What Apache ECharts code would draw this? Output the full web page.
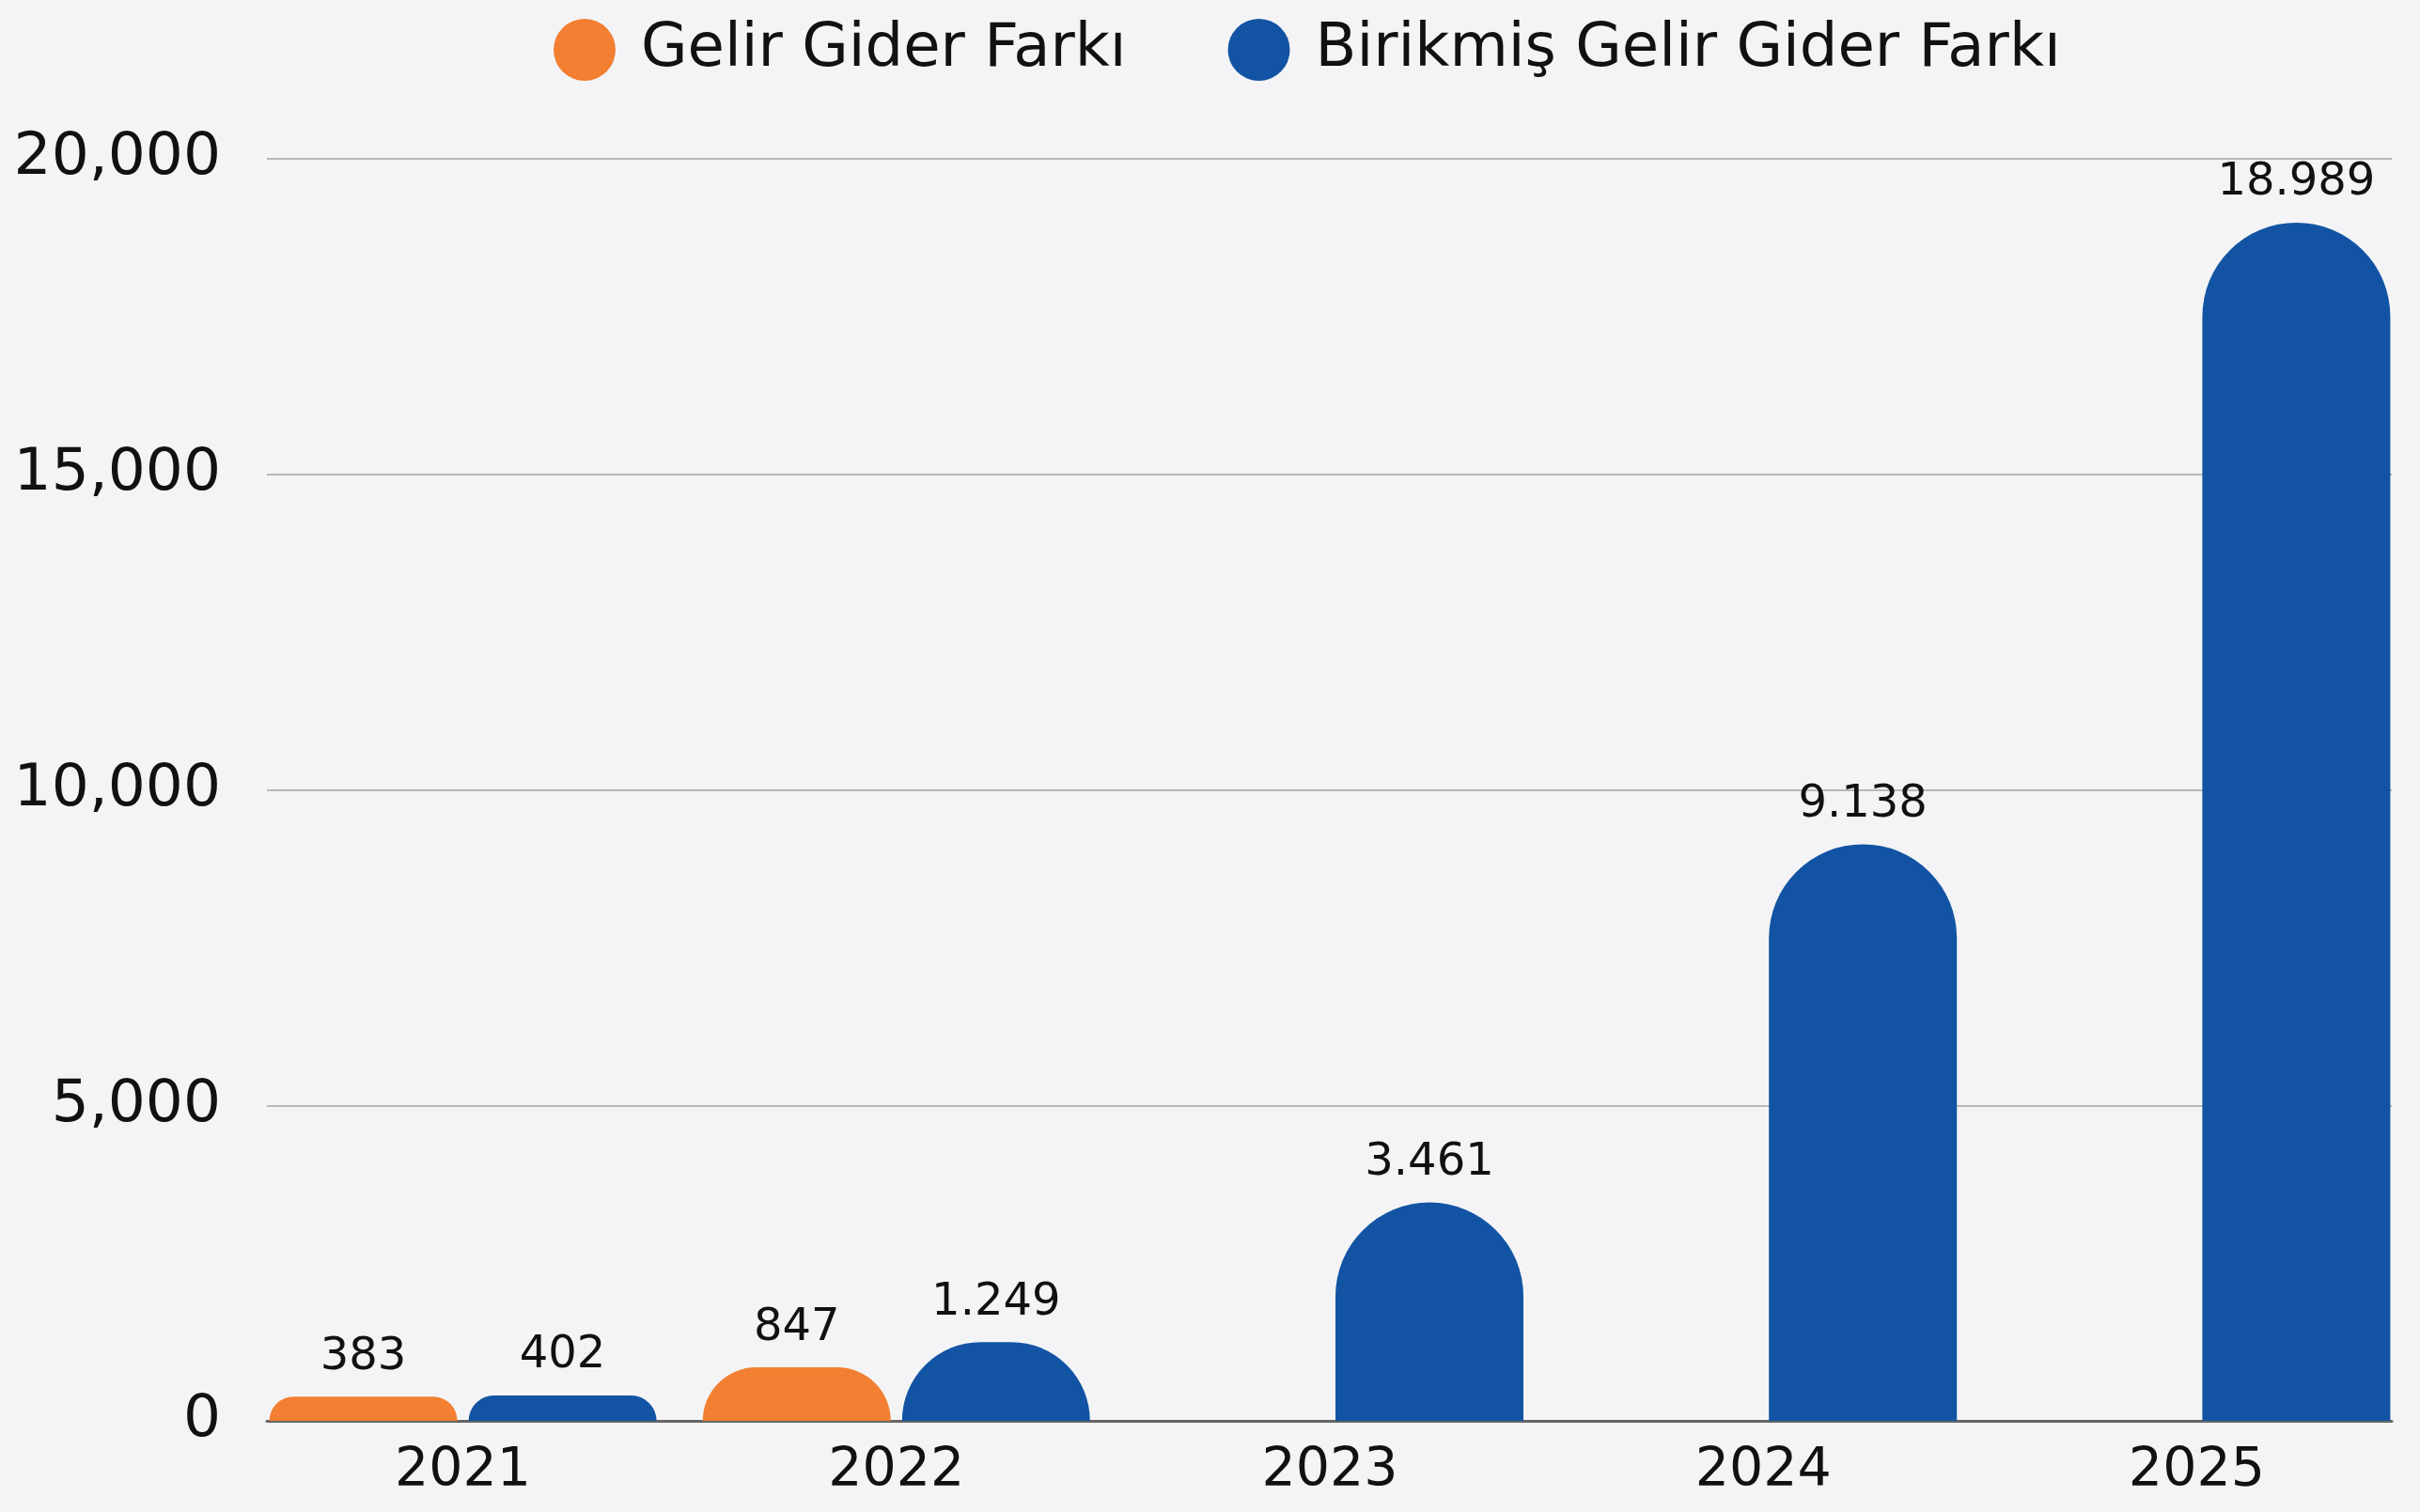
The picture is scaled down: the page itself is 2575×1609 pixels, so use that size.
<!DOCTYPE html>
<html>
<head>
<meta charset="utf-8">
<script src="https://cdn.jsdelivr.net/npm/echarts@6/dist/echarts.min.js"></script>
<style>
    html, body { margin: 0; padding: 0; background: #f4f4f6; }
    #chrt_gelir_gider { width: 2575px; height: 1609px; }
</style>
</head>
<body>
<div id="chrt_gelir_gider"></div>
<script>
const years = ['2021', '2022', '2023', '2024', '2025']
const gelirGiderFarki = [383, 847, null, null, null]
const birikmisFarki = [402, 1249, 3461, 9138, 18989]
const yTicks = { min: 0, max: 20000, interval: 5000 }

const fontName = 'DejaVu Sans'

// 18989 -> 18.989
const dotFmt = v => String(v).replace(/\B(?=(\d{3})+(?!\d))/g, '.')

const barLabel = {
    show: true,
    position: 'top',
    distance: 18,
    color: '#111',
    fontFamily: fontName,
    fontSize: 48,
    formatter: p => dotFmt(p.value)
}

const option = {
    backgroundColor: '#f4f4f6',
    animation: false,
    legend: {
        left: 584, top: 15,
        icon: 'circle',
        itemWidth: 66, itemHeight: 66,
        itemGap: 108,
        textStyle: {
            fontFamily: fontName, fontSize: 64, color: '#111',
            padding: [0, 0, 0, 22]
        },
        data: ['Gelir Gider Farkı', 'Birikmiş Gelir Gider Farkı']
    },
    grid: [
        // gridlines + y labels
        { left: 284, right: 30, top: 169, bottom: 97 },
        // bars
        { left: 262, right: 7, top: 169, bottom: 97 }
    ],
    xAxis: [
        {
            gridIndex: 0, type: 'category', data: years,
            axisLine: { show: true, lineStyle: { color: '#666', width: 3 } },
            axisTick: { show: false },
            axisLabel: { show: false }
        },
        {
            gridIndex: 1, type: 'category', data: years,
            axisLine: { show: false },
            axisTick: { show: false },
            axisLabel: {
                margin: 26,
                color: '#111', fontFamily: fontName, fontSize: 57
            }
        }
    ],
    yAxis: [
        {
            gridIndex: 0, type: 'value',
            min: yTicks.min, max: yTicks.max, interval: yTicks.interval,
            axisLine: { show: false },
            axisTick: { show: false },
            axisLabel: {
                margin: 49,
                color: '#111', fontFamily: fontName, fontSize: 63,
                formatter: v => v.toLocaleString('en-US')
            },
            splitLine: { lineStyle: { color: '#b8b8b8', width: 2 } }
        },
        {
            gridIndex: 1, type: 'value', show: false,
            min: yTicks.min, max: yTicks.max, interval: yTicks.interval,
            splitLine: { show: false }
        }
    ],
    series: [
        {
            name: 'Gelir Gider Farkı',
            type: 'bar',
            xAxisIndex: 1, yAxisIndex: 1,
            data: gelirGiderFarki,
            barWidth: 200,
            barGap: '6%',
            itemStyle: { color: '#f27f32', borderRadius: [100, 100, 0, 0] },
            label: barLabel
        },
        {
            name: 'Birikmiş Gelir Gider Farkı',
            type: 'bar',
            xAxisIndex: 1, yAxisIndex: 1,
            data: birikmisFarki,
            barWidth: 200,
            barGap: '6%',
            itemStyle: { color: '#1254a3', borderRadius: [100, 100, 0, 0] },
            label: barLabel
        }
    ]
}

const chart = echarts.init(document.getElementById('chrt_gelir_gider'))
chart.setOption(option)
</script>
</body>
</html>
